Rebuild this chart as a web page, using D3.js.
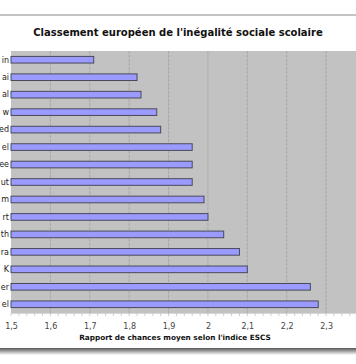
<!DOCTYPE html>
<html><head><meta charset="utf-8">
<script src="https://cdn.jsdelivr.net/npm/d3@7"></script>
<style>body{margin:0;background:#fff}svg{display:block}</style>
</head><body>
<script>
const categories = ["in","ai","al","w","ed","el","ee","ut","m","rt","th","ra","K","er","el "];
const values = [1.71,1.82,1.83,1.87,1.88,1.96,1.96,1.96,1.99,2.00,2.04,2.08,2.10,2.26,2.28];
const tickValues = [1.5,1.6,1.7,1.8,1.9,2.0,2.1,2.2,2.3];
const tickLabels = ["1,5","1,6","1,7","1,8","1,9","2","2,1","2,2","2,3"];
const title = "Classement européen de l'inégalité sociale scolaire";
const xTitle = "Rapport de chances moyen selon l'indice ESCS";

const W = 356, H = 364;
const svg = d3.select("body").append("svg").attr("width", W).attr("height", H);
const font = "Verdana, 'DejaVu Sans', sans-serif";

// frame lines
svg.append("line").attr("x1",0).attr("x2",W).attr("y1",15).attr("y2",15).attr("stroke","#8a8a8a").attr("stroke-width",1);
const grad = svg.append("defs").append("linearGradient").attr("id","sh").attr("x1",0).attr("x2",0).attr("y1",0).attr("y2",1);
grad.append("stop").attr("offset","0%").attr("stop-color","#555");
grad.append("stop").attr("offset","100%").attr("stop-color","#fff");
svg.append("rect").attr("x",0).attr("y",348).attr("width",W).attr("height",7).attr("fill","url(#sh)");

const x = d3.scaleLinear().domain([1.5, 2.4]).range([11, 365.5]);
const y = d3.scaleBand().domain(categories).range([51, 313]).paddingInner(0.62).paddingOuter(0.31);

// plot bg
svg.append("rect").attr("x", x(1.5)).attr("y", 51).attr("width", W - x(1.5)).attr("height", 262).attr("fill", "#c2c2c2");

// gridlines
svg.append("g").selectAll("line").data(tickValues.slice(1)).join("line")
  .attr("x1", d => x(d)).attr("x2", d => x(d)).attr("y1", 51).attr("y2", 313)
  .attr("stroke", "#a8a8a8").attr("stroke-width", 1).attr("stroke-dasharray", "3,1");

// bars
svg.append("g").selectAll("rect").data(values).join("rect")
  .attr("x", x(1.5)).attr("y", (d,i) => y(categories[i]))
  .attr("width", d => x(d) - x(1.5)).attr("height", y.bandwidth())
  .attr("fill", "#9a9aff").attr("stroke", "#4a4a5a").attr("stroke-width", 1);

// category labels
svg.append("g").selectAll("text").data(categories).join("text")
  .attr("x", 9).attr("y", d => y(d) + y.bandwidth()/2).attr("dy", "0.35em")
  .attr("text-anchor", "end").attr("font-family", font).attr("font-size", 8).attr("fill", "#222")
  .text(d => d.trim());

// x axis
const axis = d3.axisBottom(x).tickValues(tickValues).tickFormat((d,i) => tickLabels[i]).tickSize(0).tickPadding(10);
const ga = svg.append("g").attr("transform", `translate(0,313)`).call(axis);
ga.select(".domain").attr("stroke", "#d8d8d8");
ga.selectAll("text").attr("font-family", font).attr("font-size", 8).attr("fill", "#444");

// minor ticks
svg.append("g").selectAll("line").data(d3.range(1.5, 2.4001, 0.02)).join("line")
  .attr("x1", d => x(d)).attr("x2", d => x(d)).attr("y1", 313).attr("y2", 316)
  .attr("stroke", "#ccc");

svg.append("text").attr("x", 178).attr("y", 36).attr("text-anchor", "middle")
  .attr("font-family", font).attr("font-size", 10).attr("font-weight", "bold").attr("fill", "#111").text(title);
svg.append("text").attr("x", 175).attr("y", 340).attr("text-anchor", "middle")
  .attr("font-family", font).attr("font-size", 7.3).attr("font-weight", "bold").attr("fill", "#111").text(xTitle);
</script>
</body></html>
